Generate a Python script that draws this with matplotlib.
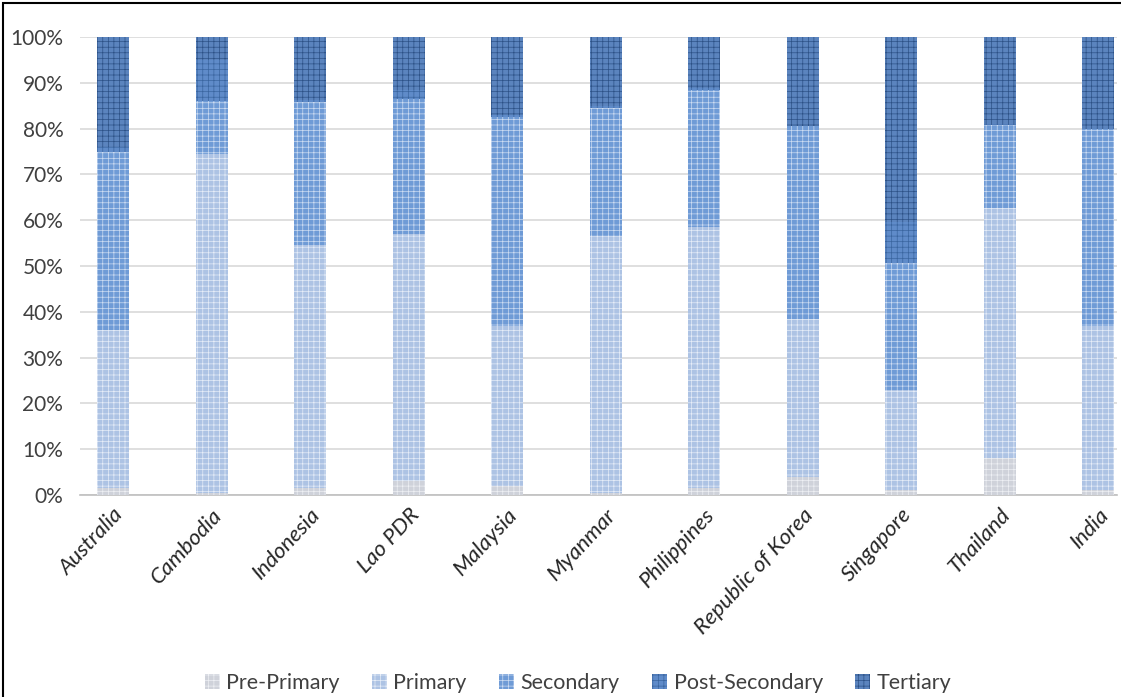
import numpy as np
import matplotlib.pyplot as plt
from matplotlib.patches import Rectangle
from matplotlib.ticker import PercentFormatter

countries = ['Australia', 'Cambodia', 'Indonesia', 'Lao PDR', 'Malaysia', 'Myanmar',
             'Philippines', 'Republic of Korea', 'Singapore', 'Thailand', 'India']

# share of students by level (%)
pre_primary    = [1.5, 0.5, 1.5, 3.0, 2.0, 0.5, 1.5, 4.0, 1.0, 8.0, 1.0]
primary        = [34.5, 74.0, 53.0, 54.0, 35.0, 56.0, 57.0, 34.5, 22.0, 54.7, 36.0]
secondary      = [39.0, 11.5, 31.3, 29.4, 45.5, 28.0, 29.9, 42.0, 27.6, 18.1, 43.0]
post_secondary = [1.0, 9.0, 0.5, 2.0, 0.5, 0.5, 0.5, 0.0, 9.0, 0.2, 0.0]
tertiary       = [24.0, 5.0, 13.7, 11.6, 17.0, 15.0, 11.1, 19.5, 40.4, 19.0, 20.0]

series = [('Pre-Primary', pre_primary, '#cfd2da', '#eef0f4'),
          ('Primary', primary, '#adc3e4', '#e6edf8'),
          ('Secondary', secondary, '#6f9bd6', '#cddcf2'),
          ('Post-Secondary', post_secondary, '#5f8bc9', '#3a659f'),
          ('Tertiary', tertiary, '#5b84be', '#2c5186')]

plt.rcParams['font.family'] = ['Lato', 'DejaVu Sans']
plt.rcParams['hatch.linewidth'] = 0.5

fig = plt.figure(figsize=(11.21, 6.97), dpi=100)
ax = fig.add_axes([80 / 1121, 1 - 495 / 697, (1117 - 80) / 1121, (495 - 37) / 697])

x = np.arange(len(countries))
bottom = np.zeros(len(countries))
handles = []
for name, vals, fc, hc in series:
    vals = np.array(vals)
    b = ax.bar(x, vals, 0.325, bottom=bottom, color=fc, edgecolor=hc,
               linewidth=0, hatch='+++', label=name, zorder=3)
    handles.append(b)
    bottom += vals

ax.set_ylim(0, 100)
ax.set_xlim(-0.335, 10.19)
ax.set_yticks(np.arange(0, 101, 10))
ax.yaxis.set_major_formatter(PercentFormatter(decimals=0))
ax.grid(axis='y', color='#d9d9d9', linewidth=1.2, zorder=0)
for s in ['top', 'right', 'left']:
    ax.spines[s].set_visible(False)
ax.spines['bottom'].set_color('#bfbfbf')
ax.spines['bottom'].set_linewidth(1.2)
ax.tick_params(axis='y', length=0, labelsize=15, labelcolor='#404040', pad=12)
ax.tick_params(axis='x', length=0, labelsize=16, labelcolor='#262626', pad=7)
ax.set_xticks(x)
ax.set_xticklabels(countries, rotation=47, ha='right', va='top', rotation_mode='anchor',
                   fontstyle='italic')

fig.legend(handles=handles, loc='center', bbox_to_anchor=(578 / 1121, 1 - 683 / 697),
           ncol=5, frameon=False, fontsize=15.5, handlelength=0.7, handleheight=0.7,
           handletextpad=0.3, columnspacing=1.5, labelcolor='#404040')

fig.add_artist(Rectangle((3 / 1121, -0.05), 1.0, 1 - 3 / 697 + 0.05,
                         transform=fig.transFigure, fill=False,
                         edgecolor='black', linewidth=1.5))

fig.savefig('out.png', dpi=100)
